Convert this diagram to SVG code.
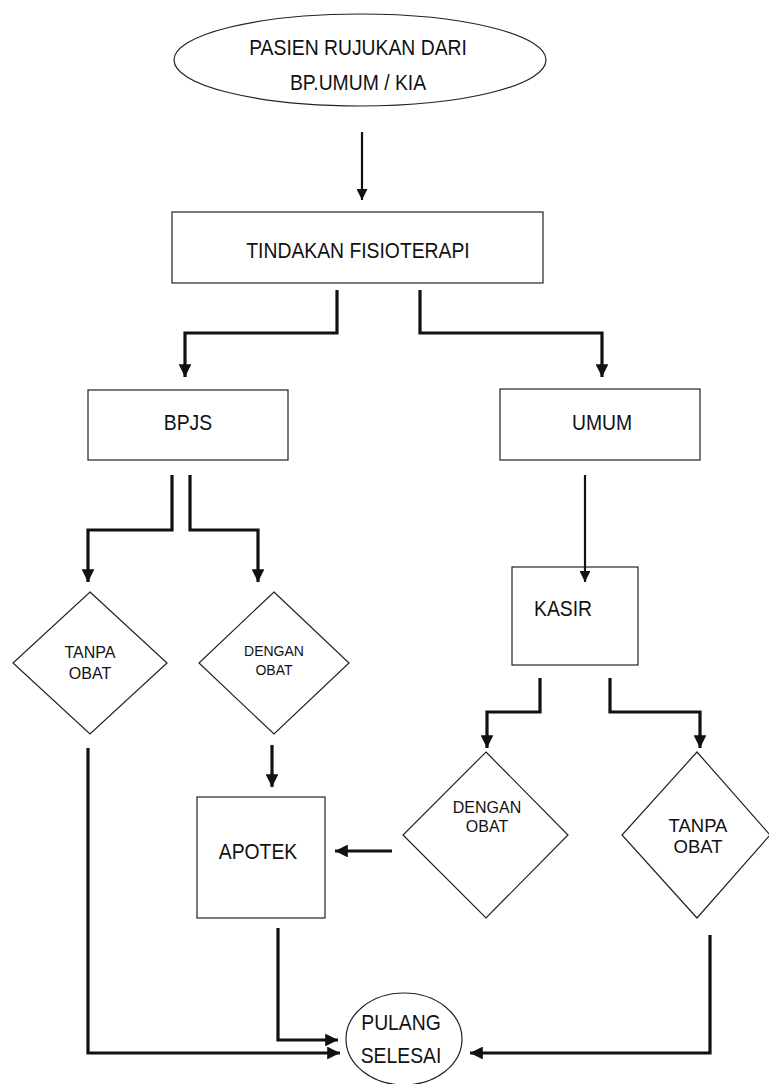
<svg xmlns="http://www.w3.org/2000/svg" width="769" height="1084" viewBox="0 0 769 1084">
<defs>
<marker id="ah" viewBox="0 0 10 10" refX="10" refY="5" markerWidth="4" markerHeight="4" markerUnits="strokeWidth" orient="auto">
<path d="M0,0 L10,5 L0,10 z" fill="#111"/>
</marker>
<marker id="ah2" viewBox="0 0 10 10" refX="10" refY="5" markerWidth="5" markerHeight="5" markerUnits="strokeWidth" orient="auto">
<path d="M0,0 L10,5 L0,10 z" fill="#111"/>
</marker>
</defs>
<style>
.shape{fill:#fff;stroke:#222;stroke-width:1.2}
.t{font-family:"Liberation Sans",Arial,sans-serif;fill:#111;text-anchor:middle}
.big{font-size:21.5px}
.c{fill:none;stroke:#111;stroke-width:3.2;stroke-linejoin:miter}
.c2{fill:none;stroke:#111;stroke-width:2.2}
</style>
<rect width="769" height="1084" fill="#fff"/>
<g id="start">
<ellipse class="shape" cx="360" cy="60" rx="186" ry="46"/>
<text class="t big" transform="translate(358,55) scale(0.9,1)">PASIEN RUJUKAN DARI</text>
<text class="t big" transform="translate(358,90) scale(0.9,1)">BP.UMUM / KIA</text>
</g>
<g id="tindakan">
<rect class="shape" x="172" y="212" width="371" height="71"/>
<text class="t big" transform="translate(358,258) scale(0.9,1)">TINDAKAN FISIOTERAPI</text>
</g>
<g id="bpjs">
<rect class="shape" x="88" y="390" width="200" height="70"/>
<text class="t big" transform="translate(188,430) scale(0.9,1)">BPJS</text>
</g>
<g id="umum">
<rect class="shape" x="500" y="389" width="200" height="71"/>
<text class="t big" transform="translate(602,430) scale(0.9,1)">UMUM</text>
</g>
<g id="tanpa1">
<polygon class="shape" points="90,592 167,663 90,734 13,663"/>
<text class="t" style="font-size:16px" x="90" y="658">TANPA</text>
<text class="t" style="font-size:16px" x="90" y="679">OBAT</text>
</g>
<g id="dengan1">
<polygon class="shape" points="274,592 349,663 274,734 199,663"/>
<text class="t" style="font-size:14px" x="274" y="656">DENGAN</text>
<text class="t" style="font-size:14px" x="274" y="675">OBAT</text>
</g>
<g id="kasir">
<rect class="shape" x="512" y="567" width="126" height="98"/>
<text class="t big" transform="translate(563,616) scale(0.9,1)">KASIR</text>
</g>
<g id="apotek">
<rect class="shape" x="197" y="797" width="128" height="121"/>
<text class="t big" transform="translate(258,859) scale(0.9,1)">APOTEK</text>
</g>
<g id="dengan2">
<polygon class="shape" points="486,752 568,835 486,918 403,835"/>
<text class="t" style="font-size:16px" x="487" y="813">DENGAN</text>
<text class="t" style="font-size:16px" x="487" y="832">OBAT</text>
</g>
<g id="tanpa2">
<polygon class="shape" points="697,752 770,835 697,918 622,835"/>
<text class="t" style="font-size:18.5px" x="698" y="832">TANPA</text>
<text class="t" style="font-size:18.5px" x="698" y="853">OBAT</text>
</g>
<g id="pulang">
<ellipse class="shape" cx="404" cy="1039" rx="58" ry="46"/>
<text class="t big" transform="translate(401,1030) scale(0.9,1)">PULANG</text>
<text class="t big" transform="translate(401,1063) scale(0.9,1)">SELESAI</text>
</g>
<g id="connectors">
<path class="c2" d="M362,132 V200" marker-end="url(#ah2)"/>
<path class="c" d="M337,290 V333 H185 V377" marker-end="url(#ah)"/>
<path class="c" d="M420,290 V333 H602 V377" marker-end="url(#ah)"/>
<path class="c" d="M172,475 V530 H88 V582" marker-end="url(#ah)"/>
<path class="c" d="M190,475 V530 H258 V582" marker-end="url(#ah)"/>
<path class="c2" d="M585,475 V582" marker-end="url(#ah2)"/>
<path class="c" d="M272,745 V787" marker-end="url(#ah)"/>
<path class="c" d="M540,678 V712 H487 V748" marker-end="url(#ah)"/>
<path class="c" d="M610,678 V712 H700 V748" marker-end="url(#ah)"/>
<path class="c" d="M392,851 H335" marker-end="url(#ah)"/>
<path class="c" d="M88,748 V1053 H340" marker-end="url(#ah)"/>
<path class="c" d="M278,928 V1040 H338" marker-end="url(#ah)"/>
<path class="c" d="M710,935 V1053 H470" marker-end="url(#ah)"/>
</g>
</svg>
